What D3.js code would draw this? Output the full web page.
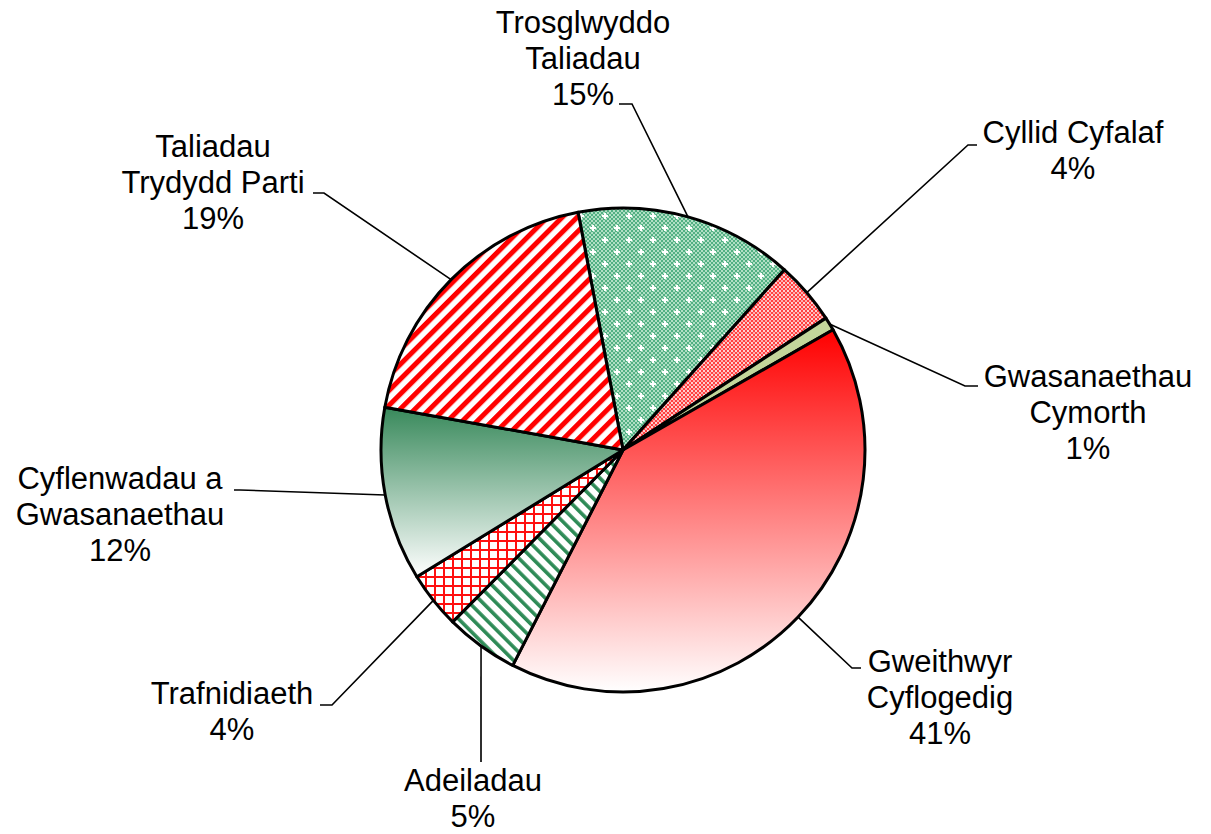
<!DOCTYPE html>
<html>
<head>
<meta charset="utf-8">
<script src="https://cdn.jsdelivr.net/npm/d3@7"></script>
<style>
  body { margin: 0; background: #fff; }
  svg { display: block; }
</style>
</head>
<body>
<div id="chart"></div>
<script>
// category names (line breaks as in the chart)
const categories = [
  ["Trosglwyddo", "Taliadau"],
  ["Cyllid Cyfalaf"],
  ["Gwasanaethau", "Cymorth"],
  ["Gweithwyr", "Cyflogedig"],
  ["Adeiladau"],
  ["Trafnidiaeth"],
  ["Cyflenwadau a", "Gwasanaethau"],
  ["Taliadau", "Trydydd Parti"]
];
// share of spending, percent
const values = [14.6, 4.2, 0.9, 40.8, 4.9, 3.8, 11.6, 19.2];
const fills = ["url(#dotGreen)", "url(#checkRed)", "#c3d69b", "url(#gradRed)",
               "url(#stripeGreen)", "url(#gridRed)", "url(#gradGreen)", "url(#stripeRed)"];

// label layout: centre x, first baseline, leader bend points
const labelPos = [
  { x: 583, y: 33, pts: [[632, 104], [619, 104]] },
  { x: 1073, y: 143, pts: [[968, 145], [977, 145]] },
  { x: 1088, y: 387, pts: [[965, 386], [978, 386]] },
  { x: 940, y: 672, pts: [[852, 668], [861, 668]] },
  { x: 473, y: 791, pts: [[481, 762]] },
  { x: 232, y: 704, pts: [[332, 705], [320, 705]] },
  { x: 120, y: 489, pts: [[240, 490], [234, 490]] },
  { x: 213, y: 157, pts: [[324, 193], [313, 193]] }
];

const width = 1211, height = 834;
const cx = 623, cy = 450, radius = 242;
const startDeg = -10.7;

const svg = d3.select("#chart").append("svg")
  .attr("width", width).attr("height", height);

const defs = svg.append("defs");

// gradients
const grad = (id, c) => {
  const g = defs.append("linearGradient").attr("id", id)
    .attr("x1", 0).attr("y1", 0).attr("x2", 0).attr("y2", 1);
  g.append("stop").attr("offset", "0%").attr("stop-color", c);
  g.append("stop").attr("offset", "100%").attr("stop-color", "#ffffff");
};
grad("gradRed", "#ff0000");
grad("gradGreen", "#38895b");

// green dotted pattern with white sparkles
const pDot = defs.append("pattern").attr("id", "dotGreen")
  .attr("patternUnits", "userSpaceOnUse").attr("width", 24).attr("height", 24);
pDot.append("rect").attr("width", 24).attr("height", 24).attr("fill", "#b0dfc4");
for (let i = 0; i < 6; i++) {
  for (let j = 0; j < 6; j++) {
    pDot.append("rect").attr("x", i * 4).attr("y", j * 4).attr("width", 2).attr("height", 2).attr("fill", "#52b083");
    pDot.append("rect").attr("x", i * 4 + 2).attr("y", j * 4 + 2).attr("width", 2).attr("height", 2).attr("fill", "#52b083");
  }
}
[[6, 6], [18, 18]].forEach(([x, y]) => {
  pDot.append("rect").attr("x", x - 3).attr("y", y - 1).attr("width", 6).attr("height", 2).attr("fill", "#fff");
  pDot.append("rect").attr("x", x - 1).attr("y", y - 3).attr("width", 2).attr("height", 6).attr("fill", "#fff");
});

// red fine checker
const pChk = defs.append("pattern").attr("id", "checkRed")
  .attr("patternUnits", "userSpaceOnUse").attr("width", 4).attr("height", 4);
pChk.append("rect").attr("width", 4).attr("height", 4).attr("fill", "#ff4040");
pChk.append("rect").attr("width", 2).attr("height", 2).attr("fill", "#ffd0d0");
pChk.append("rect").attr("x", 2).attr("y", 2).attr("width", 2).attr("height", 2).attr("fill", "#ffb0b0");

// diagonal stripes
const stripe = (id, color, period, w, angle) => {
  const p = defs.append("pattern").attr("id", id)
    .attr("patternUnits", "userSpaceOnUse").attr("width", period).attr("height", period)
    .attr("patternTransform", `rotate(${angle})`);
  p.append("rect").attr("width", period).attr("height", period).attr("fill", "#fff");
  p.append("rect").attr("width", w).attr("height", period).attr("fill", color);
};
stripe("stripeRed", "#ff0000", 10.5, 5, 45);
stripe("stripeGreen", "#2e8b57", 9.5, 3.6, -45);

// red grid
const pGrid = defs.append("pattern").attr("id", "gridRed")
  .attr("patternUnits", "userSpaceOnUse").attr("width", 9).attr("height", 9);
pGrid.append("rect").attr("width", 9).attr("height", 9).attr("fill", "#fff");
pGrid.append("rect").attr("width", 2).attr("height", 9).attr("fill", "#ff1010");
pGrid.append("rect").attr("width", 9).attr("height", 2).attr("fill", "#ff1010");

// pie
const start = startDeg * Math.PI / 180;
const pie = d3.pie().sort(null).value(d => d)
  .startAngle(start).endAngle(start + 2 * Math.PI);
const arcs = pie(values);
const arc = d3.arc().innerRadius(0).outerRadius(radius);

const g = svg.append("g").attr("transform", `translate(${cx},${cy})`);

g.selectAll("path.slice")
  .data(arcs)
  .enter()
  .append("path")
  .attr("class", "slice")
  .attr("d", arc)
  .attr("fill", (d, i) => fills[i])
  .attr("stroke", "#000")
  .attr("stroke-width", 3)
  .attr("stroke-linejoin", "round");

// leader lines
const line = d3.line();
svg.selectAll("path.leader")
  .data(arcs)
  .enter()
  .append("path")
  .attr("class", "leader")
  .attr("d", (d, i) => {
    const a = (d.startAngle + d.endAngle) / 2;
    const p0 = [cx + radius * Math.sin(a), cy - radius * Math.cos(a)];
    return line([p0, ...labelPos[i].pts]);
  })
  .attr("fill", "none")
  .attr("stroke", "#000")
  .attr("stroke-width", 1.6);

// labels
const fmt = d3.format(".0f");
const labels = svg.selectAll("text.label")
  .data(arcs)
  .enter()
  .append("text")
  .attr("class", "label")
  .attr("text-anchor", "middle")
  .style("font-family", "'Liberation Sans', Arial, sans-serif")
  .style("font-size", "31px")
  .style("fill", "#000");

labels.each(function (d, i) {
  const t = d3.select(this);
  const lines = [...categories[i], fmt(values[i]) + "%"];
  lines.forEach((s, k) => {
    t.append("tspan")
      .attr("x", labelPos[i].x)
      .attr("y", labelPos[i].y + k * 36)
      .text(s);
  });
});
</script>
</body>
</html>
